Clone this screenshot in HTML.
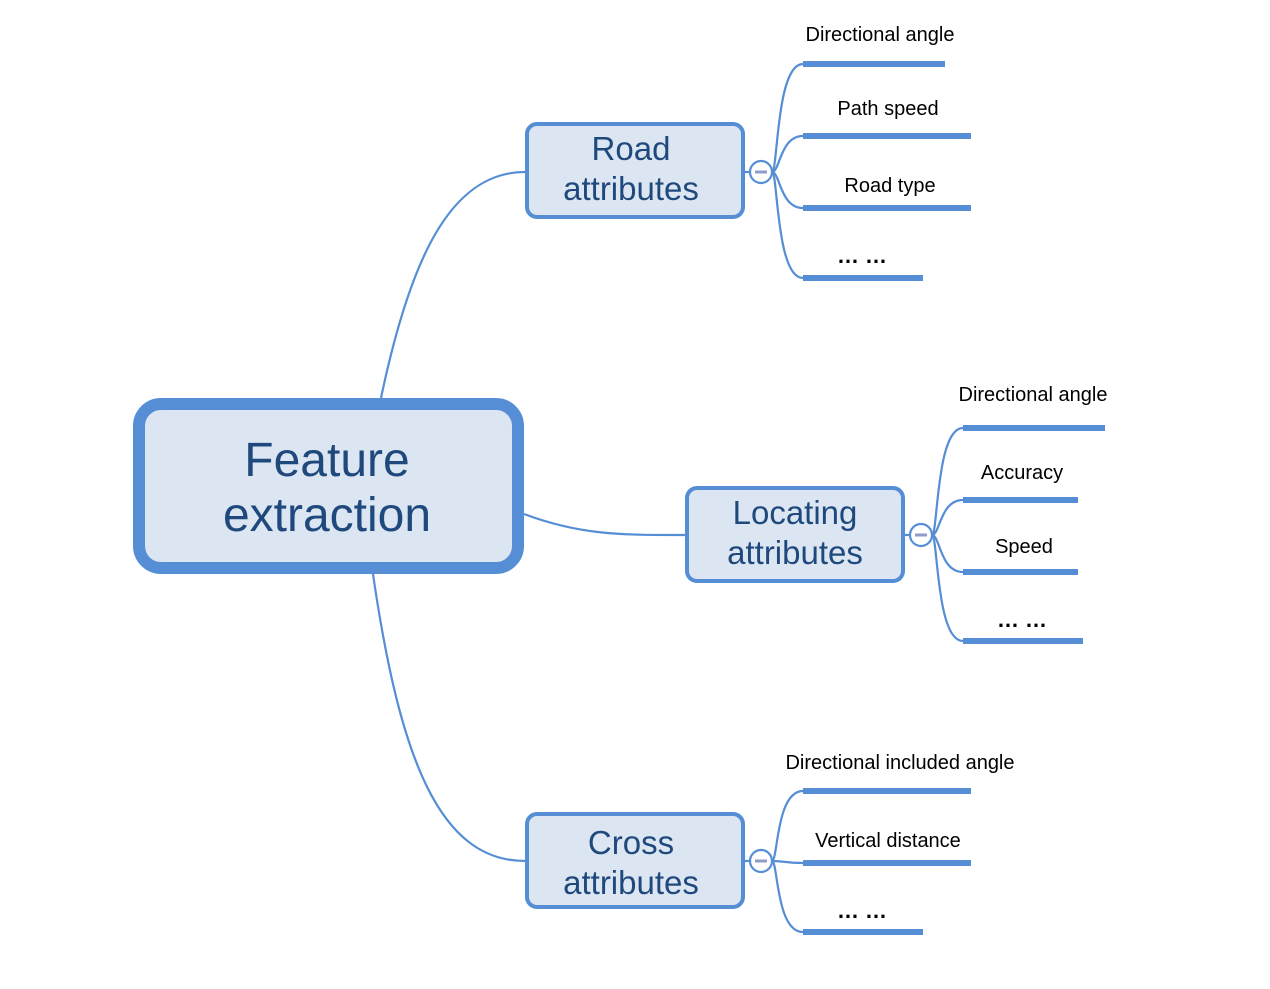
<!DOCTYPE html>
<html><head><meta charset="utf-8"><style>body{margin:0;background:#fff}svg{display:block}</style></head>
<body>
<svg width="1270" height="989" viewBox="0 0 1270 989" xmlns="http://www.w3.org/2000/svg" font-family="Liberation Sans, sans-serif">
<g fill="none" stroke="#558ed5" stroke-width="2.2">
<path d="M381 398 C 410 260, 450 172, 525 172"/>
<path d="M524 514 C 580 535, 620 535, 685 535"/>
<path d="M373 574 C 400 760, 440 861, 525 861"/>
<path d="M745 172 L750 172"/><path d="M905 535 L910 535"/><path d="M745 861 L750 861"/>
<path d="M772 172 C 778 172, 776 64, 803 64"/>
<path d="M772 172 C 780 172, 780 136, 803 136"/>
<path d="M772 172 C 780 172, 780 208, 803 208"/>
<path d="M772 172 C 778 172, 776 278, 803 278"/>
<path d="M932 535 C 938 535, 936 428, 963 428"/>
<path d="M932 535 C 940 535, 940 500, 963 500"/>
<path d="M932 535 C 940 535, 940 572, 963 572"/>
<path d="M932 535 C 938 535, 936 641, 963 641"/>
<path d="M772 861 C 778 861, 776 791, 803 791"/>
<path d="M772 861 C 785 861, 785 863, 803 863"/>
<path d="M772 861 C 778 861, 776 932, 803 932"/>
</g>
<g stroke="#558ed5" stroke-width="6">
<line x1="803" y1="64" x2="945" y2="64"/><line x1="803" y1="136" x2="971" y2="136"/>
<line x1="803" y1="208" x2="971" y2="208"/><line x1="803" y1="278" x2="923" y2="278"/>
<line x1="963" y1="428" x2="1105" y2="428"/><line x1="963" y1="500" x2="1078" y2="500"/>
<line x1="963" y1="572" x2="1078" y2="572"/><line x1="963" y1="641" x2="1083" y2="641"/>
<line x1="803" y1="791" x2="971" y2="791"/><line x1="803" y1="863" x2="971" y2="863"/>
<line x1="803" y1="932" x2="923" y2="932"/>
</g>
<rect x="139" y="404" width="379" height="164" rx="22" fill="#dce6f2" stroke="#558ed5" stroke-width="12"/>
<rect x="527" y="124" width="216" height="93" rx="10" fill="#dce6f2" stroke="#558ed5" stroke-width="4"/>
<rect x="687" y="488" width="216" height="93" rx="10" fill="#dce6f2" stroke="#558ed5" stroke-width="4"/>
<rect x="527" y="814" width="216" height="93" rx="10" fill="#dce6f2" stroke="#558ed5" stroke-width="4"/>
<g fill="#fff" stroke="#558ed5" stroke-width="2.2">
<circle cx="761" cy="172" r="11"/><circle cx="921" cy="535" r="11"/><circle cx="761" cy="861" r="11"/>
</g>
<g stroke="#8e9dc8" stroke-width="3">
<line x1="755" y1="172" x2="767" y2="172"/><line x1="915" y1="535" x2="927" y2="535"/><line x1="755" y1="861" x2="767" y2="861"/>
</g>
<g fill="#1f497d" text-anchor="middle">
<text x="327" y="476" font-size="48">Feature</text>
<text x="327" y="531" font-size="48">extraction</text>
<text x="631" y="160" font-size="33">Road</text>
<text x="631" y="200" font-size="33">attributes</text>
<text x="795" y="524" font-size="33">Locating</text>
<text x="795" y="564" font-size="33">attributes</text>
<text x="631" y="854" font-size="33">Cross</text>
<text x="631" y="894" font-size="33">attributes</text>
</g>
<g fill="#000" font-size="20" text-anchor="middle">
<text x="880" y="41">Directional angle</text>
<text x="888" y="115">Path speed</text>
<text x="890" y="192">Road type</text>
<text x="862" y="263" font-size="22" font-weight="bold">… …</text>
<text x="1033" y="401">Directional angle</text>
<text x="1022" y="479">Accuracy</text>
<text x="1024" y="553">Speed</text>
<text x="1022" y="627" font-size="22" font-weight="bold">… …</text>
<text x="900" y="769">Directional included angle</text>
<text x="888" y="847">Vertical distance</text>
<text x="862" y="918" font-size="22" font-weight="bold">… …</text>
</g>
</svg>
</body></html>
